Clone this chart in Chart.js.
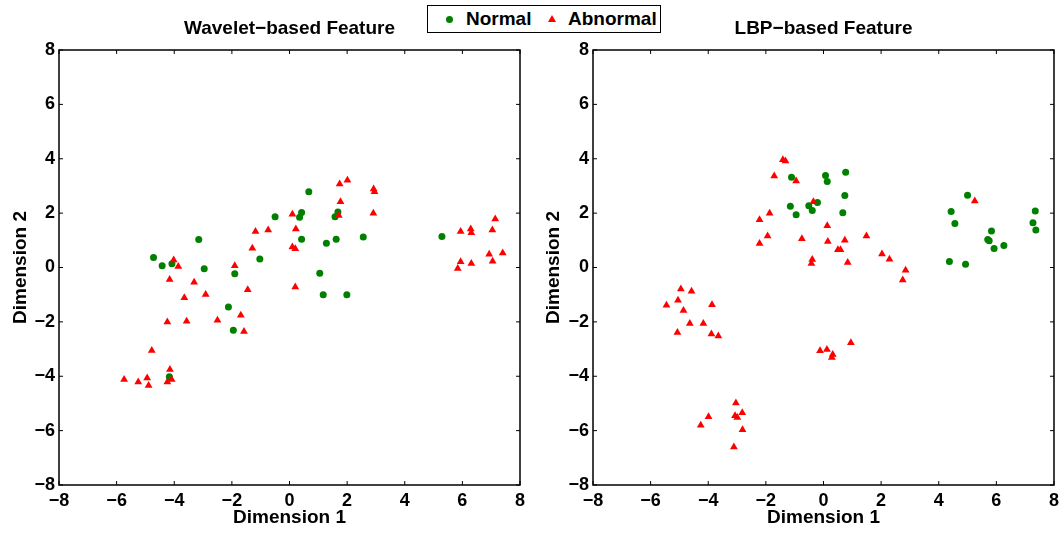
<!DOCTYPE html>
<html lang="en">
<head>
    <meta charset="UTF-8">
    <title>Wavelet vs LBP Feature</title>
    <script src="https://cdn.jsdelivr.net/npm/chart.js"></script>
    <style>
        body { margin: 0; background: #fff; font-family: "Liberation Sans", Arial, sans-serif; }
        .wrap { position: relative; width: 1064px; height: 534px; }
        .panel { position: absolute; top: 0; height: 534px; width: 532px; }
        .legend {
            position: absolute; left: 427px; top: 5px; width: 232px; height: 26px;
            border: 1px solid #000; background: #fff; z-index: 2;
            font-weight: bold; font-size: 19px; color: #000;
        }
        .legend span { position: absolute; top: 2px; }
        .dot { position: absolute; left: 18px; top: 10px; width: 7px; height: 7px; border-radius: 50%; background: #008000; }
        .tri { position: absolute; left: 120px; top: 9px; width: 0; height: 0;
               border-left: 4px solid transparent; border-right: 4px solid transparent; border-bottom: 7px solid #ff0000; }
    </style>
</head>
<body>
<div class="wrap">
    <div class="panel" style="left:0"><canvas id="waveletChart" width="532" height="534"></canvas></div>
    <div class="panel" style="left:532px"><canvas id="lbpChart" width="532" height="534"></canvas></div>
    <!-- shared legend -->
    <div class="legend">
        <div class="dot"></div><span style="left:38px">Normal</span>
        <div class="tri"></div><span style="left:140px">Abnormal</span>
    </div>
</div>
<script>
// tick labels on both axes
const tickValues = [-8, -6, -4, -2, 0, 2, 4, 6, 8];

// Wavelet-based feature
const waveletNormalX = [-4.72, -4.42, -4.08, -3.15, -2.96, -2.12, -1.90, -1.95, -1.03, -0.50, -4.17, 0.42,
                        0.35, 0.67, 0.42, 1.28, 1.62, 1.68, 1.58, 2.56, 1.05, 1.17, 1.99, 5.29];
const waveletNormalY = [0.37, 0.06, 0.14, 1.03, -0.05, -1.45, -0.23, -2.31, 0.31, 1.87, -4.02, 2.02,
                        1.85, 2.79, 1.04, 0.89, 1.04, 2.04, 1.87, 1.12, -0.21, -1.00, -1.00, 1.14];
const waveletAbnormalX = [-5.74, -5.25, -4.94, -4.89, -4.78, -4.24, -4.09, -4.15, -4.24, -4.16, -4.02, -3.86,
                          -3.65, -3.57, -3.31, -2.91, -2.50, -1.90, -1.69, -1.58, -1.45, -1.29, -1.18, -0.74,
                          0.10, 0.22, 0.10, 0.20, 0.20, 1.74, 2.01, 1.77, 1.71, 2.92, 2.95, 2.91,
                          5.94, 6.29, 6.31, 7.14, 7.04, 5.94, 5.84, 6.31, 6.93, 7.05, 7.40];
const waveletAbnormalY = [-4.12, -4.21, -4.06, -4.34, -3.05, -4.21, -4.12, -3.75, -2.00, -0.44, 0.28, 0.04,
                          -1.11, -1.98, -0.54, -0.99, -1.94, 0.06, -1.76, -2.35, -0.82, 0.71, 1.32, 1.38,
                          1.96, 1.42, 0.75, 0.69, -0.72, 3.07, 3.21, 2.42, 1.91, 2.89, 2.79, 2.00,
                          1.32, 1.42, 1.28, 1.78, 1.38, 0.21, -0.04, 0.15, 0.49, 0.23, 0.53];

// LBP-based feature
const lbpNormalX = [-1.11, 0.07, 0.13, 0.77, 0.74, -1.15, -0.95, -0.51, -0.39, -0.21, 0.67, 5.00,
                    4.43, 4.56, 5.83, 5.70, 5.75, 5.92, 6.26, 4.37, 4.93, 7.35, 7.27, 7.37];
const lbpNormalY = [3.32, 3.38, 3.16, 3.50, 2.65, 2.25, 1.94, 2.27, 2.10, 2.39, 2.01, 2.66,
                    2.06, 1.62, 1.34, 1.03, 0.98, 0.70, 0.81, 0.22, 0.12, 2.08, 1.65, 1.38];
const lbpAbnormalX = [-1.41, -1.32, -1.71, -0.95, -0.35, -1.87, -2.22, -1.94, -2.22, -0.75, 0.13, 0.15,
                      0.74, 0.50, 0.59, -0.39, -0.42, 0.84, 1.49, 2.03, 2.29, 2.85, 2.75, 5.25,
                      -4.95, -4.58, -5.05, -5.45, -3.87, -4.86, -4.64, -4.17, -5.07, -3.89, -3.65,
                      -0.12, 0.12, 0.32, 0.29, 0.95,
                      -3.04, -3.99, -4.26, -3.07, -2.99, -2.82, -2.81, -3.11];
const lbpAbnormalY = [3.96, 3.92, 3.37, 3.18, 2.42, 2.00, 1.76, 1.16, 0.88, 1.06, 1.54, 0.96,
                      1.00, 0.65, 0.65, 0.29, 0.15, 0.18, 1.16, 0.50, 0.30, -0.10, -0.46, 2.45,
                      -0.79, -0.87, -1.20, -1.39, -1.37, -1.58, -2.06, -2.06, -2.39, -2.45, -2.52,
                      -3.06, -3.02, -3.20, -3.31, -2.77,
                      -4.98, -5.49, -5.80, -5.45, -5.52, -5.34, -5.97, -6.60];

function toPoints(xs, ys) {
    return xs.map((x, i) => ({ x: x, y: ys[i] }));
}

// MATLAB-like frame with inward ticks
const framePlugin = {
    id: 'frame',
    afterDatasetsDraw(chart) {
        const { ctx, chartArea: a, scales: { x, y } } = chart;
        const len = 4;
        ctx.save();
        ctx.strokeStyle = '#000';
        ctx.lineWidth = 1.5;
        ctx.strokeRect(a.left, a.top, a.right - a.left, a.bottom - a.top);
        ctx.lineWidth = 1;
        ctx.beginPath();
        tickValues.forEach(v => {
            const px = x.getPixelForValue(v);
            ctx.moveTo(px, a.bottom); ctx.lineTo(px, a.bottom - len);
            ctx.moveTo(px, a.top); ctx.lineTo(px, a.top + len);
            const py = y.getPixelForValue(v);
            ctx.moveTo(a.left, py); ctx.lineTo(a.left + len, py);
            ctx.moveTo(a.right, py); ctx.lineTo(a.right - len, py);
        });
        ctx.stroke();
        ctx.restore();
    }
};

const family = '"Liberation Sans", Arial, sans-serif';
const titleFont = { family: family, size: 19, weight: 'bold' };
const tickFont = { family: family, size: 18, weight: 'bold' };

function makeChart(id, title, normal, abnormal, yWidth, padRight, yTitlePad) {
    const minus = v => String(v).replace('-', '\u2212');
    return new Chart(document.getElementById(id), {
        type: 'scatter',
        data: {
            datasets: [
                {
                    label: 'Abnormal', data: abnormal, pointStyle: 'triangle', pointRadius: 4.5,
                    backgroundColor: '#ff0000', borderColor: '#ff0000', borderWidth: 0, order: 0
                },
                {
                    label: 'Normal', data: normal, pointStyle: 'circle', pointRadius: 3.5,
                    backgroundColor: '#008000', borderColor: '#008000', borderWidth: 0, order: 1
                }
            ]
        },
        options: {
            responsive: false,
            animation: false,
            layout: { padding: { left: 0, right: padRight, top: 0, bottom: 0 } },
            plugins: {
                legend: { display: false },
                tooltip: { enabled: false },
                title: {
                    display: true, text: title, color: '#000', font: titleFont, fullSize: false,
                    padding: { top: 17, bottom: 10.2 }
                }
            },
            scales: {
                x: {
                    type: 'linear', min: -8, max: 8,
                    afterBuildTicks: s => { s.ticks = tickValues.map(v => ({ value: v })); },
                    afterFit: s => { s.height = 49; },
                    grid: { display: false, drawTicks: false },
                    border: { display: false },
                    ticks: { color: '#000', font: tickFont, padding: 5, callback: minus, maxRotation: 0 },
                    title: { display: true, text: 'Dimension 1', color: '#000', font: titleFont, padding: { top: 0, bottom: 4.6 } }
                },
                y: {
                    type: 'linear', min: -8, max: 8,
                    afterBuildTicks: s => { s.ticks = tickValues.map(v => ({ value: v })); },
                    afterFit: s => { s.width = yWidth; },
                    grid: { display: false, drawTicks: false },
                    border: { display: false },
                    ticks: { color: '#000', font: tickFont, padding: 4, callback: minus },
                    title: { display: true, text: 'Dimension 2', color: '#000', font: titleFont, padding: { top: yTitlePad, bottom: 0 } }
                }
            }
        },
        plugins: [framePlugin]
    });
}

makeChart('waveletChart', 'Wavelet\u2212based Feature',
    toPoints(waveletNormalX, waveletNormalY), toPoints(waveletAbnormalX, waveletAbnormalY), 59, 12, 9);
makeChart('lbpChart', 'LBP\u2212based Feature',
    toPoints(lbpNormalX, lbpNormalY), toPoints(lbpAbnormalX, lbpAbnormalY), 61, 10, 10);
</script>
</body>
</html>
